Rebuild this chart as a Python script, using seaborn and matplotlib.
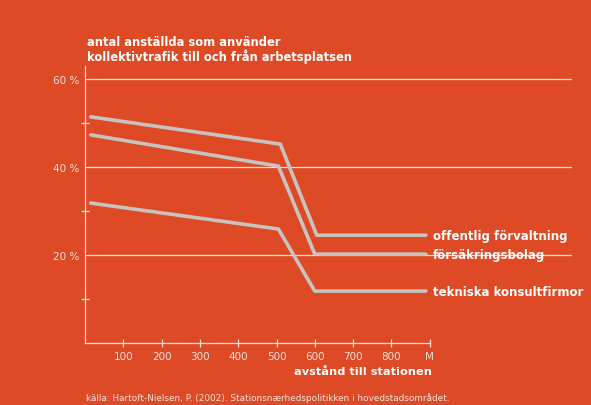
import pandas as pd
import matplotlib.pyplot as plt
import seaborn as sns

# data (distance in m, share in %)
series_names = ["offentlig förvaltning", "försäkringsbolag", "tekniska konsultfirmor"]
dist_offentlig = [15, 510, 605, 890]
share_offentlig = [51.4, 45.2, 24.5, 24.5]
dist_forsakring = [15, 505, 600, 890]
share_forsakring = [47.3, 40.2, 20.2, 20.2]
dist_tekniska = [15, 505, 600, 890]
share_tekniska = [31.8, 25.9, 11.8, 11.8]

x_ticks = [100, 200, 300, 400, 500, 600, 700, 800, 900]
x_ticklabels = ["100", "200", "300", "400", "500", "600", "700", "800", "M"]
y_ticks = [20, 40, 60]
y_ticklabels = ["20 %", "40 %", "60 %"]

bg = "#DE4A26"
fg = "#F7E3DA"
line_col = "#C9C3C0"

df = pd.concat([
    pd.DataFrame({"dist": dist_offentlig, "share": share_offentlig, "grupp": series_names[0]}),
    pd.DataFrame({"dist": dist_forsakring, "share": share_forsakring, "grupp": series_names[1]}),
    pd.DataFrame({"dist": dist_tekniska, "share": share_tekniska, "grupp": series_names[2]}),
])

sns.set_style("ticks")
plt.rcParams['font.family'] = ['DejaVu Sans']

fig = plt.figure(figsize=(5.91, 4.06), dpi=100, facecolor=bg)
ax = fig.add_axes([85 / 591, 62 / 406, 487 / 591, 286 / 406], facecolor=bg)

for y in y_ticks:
    ax.axhline(y, color=fg, lw=0.9, zorder=1)

sns.lineplot(data=df, x="dist", y="share", hue="grupp",
             palette=[line_col] * 3, linewidth=2.6, legend=False, ax=ax,
             sort=False, zorder=3)

ax.set_xlim(0, 487 / 0.383)
ax.set_ylim(0, 65)

for s in ["top", "right"]:
    ax.spines[s].set_visible(False)
ax.spines["bottom"].set_bounds(0, 900)
ax.spines["left"].set_bounds(0, 63)
for s in ["bottom", "left"]:
    ax.spines[s].set_color(fg)
    ax.spines[s].set_linewidth(0.9)

ax.set_xticks(x_ticks)
ax.set_xticklabels(x_ticklabels)
ax.set_yticks(y_ticks)
ax.set_yticklabels(y_ticklabels)
ax.set_yticks([10, 30, 50], minor=True)
ax.tick_params(axis="x", direction="inout", length=6, width=0.9, color=fg,
               labelcolor=fg, labelsize=7.5, pad=3)
ax.tick_params(axis="y", which="major", length=0, labelcolor=fg, labelsize=7.5, pad=4)
ax.tick_params(axis="y", which="minor", direction="inout", length=6, width=0.9, color=fg)

ax.set_xlabel("")
ax.set_ylabel("")

# labels at the line ends
for name, vals in zip(series_names, [share_offentlig, share_forsakring, share_tekniska]):
    ax.text(908, vals[-1], name, color="white", fontsize=8.5, fontweight="bold",
            va="center", ha="left")

fig.text(87 / 591, 1 - 64 / 406, "antal anställda som använder\nkollektivtrafik till och från arbetsplatsen",
         color="white", fontsize=8.3, fontweight="bold", ha="left", va="bottom", linespacing=1.0)
fig.text(432 / 591, 1 - 372 / 406, "avstånd till stationen", color="white", fontsize=8.2,
         fontweight="bold", ha="right", va="center")
fig.text(86 / 591, 1 - 398 / 406,
         "källa: Hartoft-Nielsen, P. (2002). Stationsnærhedspolitikken i hovedstadsområdet.",
         color=fg, fontsize=6.4, ha="left", va="center")

plt.savefig("out.png", dpi=100, facecolor=bg)
